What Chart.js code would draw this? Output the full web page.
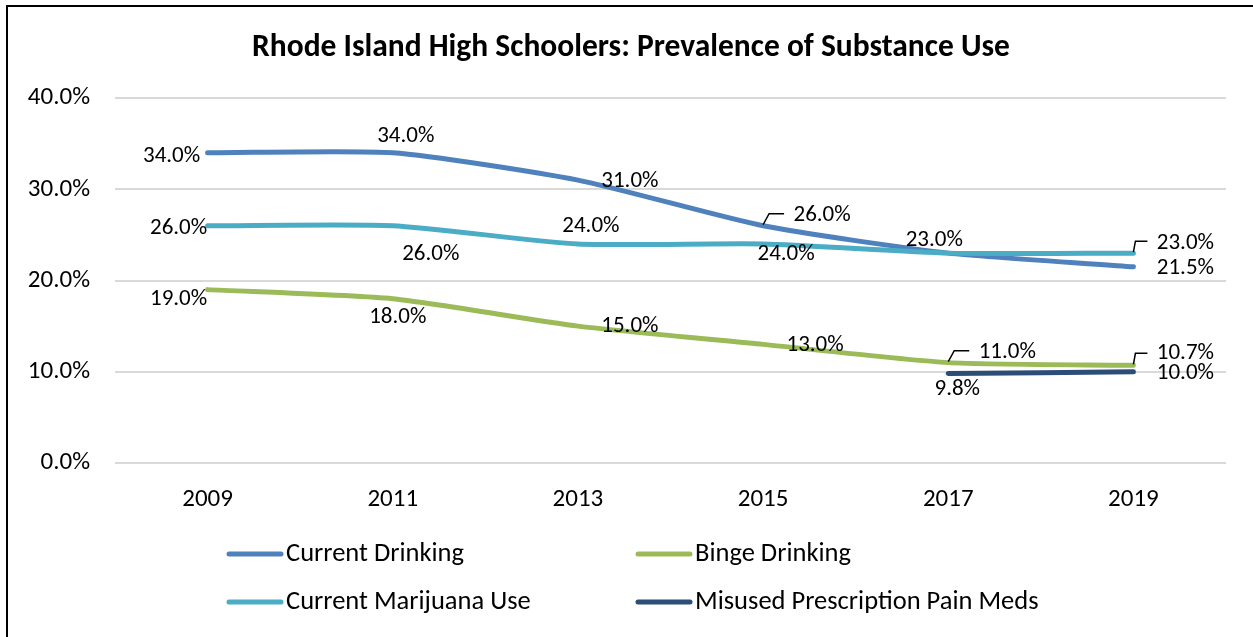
<!DOCTYPE html>
<html>
<head>
<meta charset="utf-8">
<script src="https://cdn.jsdelivr.net/npm/chart.js@4"></script>
<style>
  html, body { margin: 0; padding: 0; background: #fff; }
  canvas { display: block; }
</style>
</head>
<body>
<canvas id="canvas" width="1253" height="637"></canvas>
<script>
var years = ['2009', '2011', '2013', '2015', '2017', '2019'];
var currentDrinking = [34.0, 34.0, 31.0, 26.0, 23.0, 21.5];
var currentMarijuana = [26.0, 26.0, 24.0, 24.0, 23.0, 23.0];
var bingeDrinking = [19.0, 18.0, 15.0, 13.0, 11.0, 10.7];
var misusedPainMeds = [null, null, null, null, 9.8, 10.0];
var yTicks = [0, 10, 20, 30, 40];

var FONT = 'Carlito, Lato, sans-serif';

// where each value label sits, in px from its point (null = not shown)
var labelPlace = [
  [[-36, 3], [13, -17], [52, 1], [59, -11, 'diag'], [-14, -13], [52, 1]],
  [[-29, 2], [38, 28], [13, -18], [23, 10], null, [52, -10, 'hook']],
  [[-29, 10], [5, 18], [52, 0], [52, 1], [59, -10, 'diag'], [52, -12, 'hook']],
  [null, null, null, null, [9, 16], [52, 1]]
];

var lineData = {
  labels: years,
  datasets: [{
    label: 'Current Drinking',
    borderColor: '#4f81bd',
    data: currentDrinking,
    order: 4
  }, {
    label: 'Current Marijuana Use',
    borderColor: '#4bacc6',
    data: currentMarijuana,
    order: 3
  }, {
    label: 'Binge Drinking',
    borderColor: '#9bbb59',
    data: bingeDrinking,
    order: 2
  }, {
    label: 'Misused Prescription Pain Meds',
    borderColor: '#2c4d75',
    data: misusedPainMeds,
    order: 1
  }]
};

var decor = {
  id: 'decor',
  beforeDraw: function(chart) {
    var ctx = chart.ctx;
    ctx.save();
    ctx.fillStyle = '#fff';
    ctx.fillRect(0, 0, chart.width, chart.height);
    ctx.strokeStyle = '#000';
    ctx.lineWidth = 2;
    ctx.beginPath();
    ctx.moveTo(7, chart.height);
    ctx.lineTo(7, 6);
    ctx.lineTo(chart.width, 6);
    ctx.stroke();
    ctx.restore();
  },
  afterDatasetsDraw: function(chart) {
    var ctx = chart.ctx;
    ctx.save();
    ctx.font = '23px ' + FONT;
    ctx.fillStyle = '#000';
    ctx.textAlign = 'center';
    ctx.textBaseline = 'middle';
    chart.data.datasets.forEach(function(ds, i) {
      var meta = chart.getDatasetMeta(i);
      meta.data.forEach(function(pt, j) {
        var v = ds.data[j];
        var pl = labelPlace[i][j];
        if (v === null || !pl) return;
        ctx.fillText(v.toFixed(1) + '%', pt.x + pl[0], pt.y + pl[1]);
        if (pl[2]) {
          ctx.strokeStyle = '#000';
          ctx.lineWidth = 1.5;
          ctx.beginPath();
          ctx.moveTo(pt.x, pt.y - 1);
          if (pl[2] === 'diag') {
            ctx.lineTo(pt.x + 6, pt.y - 12);
            ctx.lineTo(pt.x + 21, pt.y - 12);
          } else {
            ctx.lineTo(pt.x + 2, pt.y - 12);
            ctx.lineTo(pt.x + 14, pt.y - 12);
          }
          ctx.stroke();
        }
      });
    });
    ctx.restore();
  },
  afterDraw: function(chart) {
    var ctx = chart.ctx;
    ctx.save();
    ctx.fillStyle = '#000';
    ctx.textAlign = 'center';
    ctx.textBaseline = 'middle';
    ctx.font = 'bold 31.5px ' + FONT;
    ctx.fillText('Rhode Island High Schoolers: Prevalence of Substance Use', 631, 48);

    // legend, two columns filled top to bottom
    var colX = [227, 636];
    var rowY = [554, 602];
    ctx.font = '26.5px ' + FONT;
    ctx.textAlign = 'left';
    chart.data.datasets.forEach(function(ds, i) {
      var x = colX[Math.floor(i / 2)];
      var y = rowY[i % 2];
      ctx.strokeStyle = ds.borderColor;
      ctx.lineWidth = 5;
      ctx.lineCap = 'round';
      ctx.beginPath();
      ctx.moveTo(x + 2, y);
      ctx.lineTo(x + 54, y);
      ctx.stroke();
      ctx.fillText(ds.label, x + 59, y);
    });
    ctx.restore();
  }
};

window.onload = function() {
  var ctx = document.getElementById('canvas').getContext('2d');
  window.myLine = new Chart(ctx, {
    type: 'line',
    data: lineData,
    plugins: [decor],
    options: {
      responsive: false,
      animation: false,
      devicePixelRatio: 1,
      layout: {
        padding: { left: 0, right: 27, top: 98, bottom: 124 }
      },
      elements: {
        line: { borderWidth: 5, tension: 0.2, borderCapStyle: 'round', fill: false },
        point: { radius: 0, hoverRadius: 0 }
      },
      plugins: {
        legend: { display: false },
        title: { display: false },
        tooltip: { enabled: false }
      },
      scales: {
        x: {
          offset: true,
          grid: { display: false, drawTicks: false },
          border: { display: false },
          ticks: { color: '#000', font: { family: FONT, size: 25 }, padding: 22 },
          afterFit: function(s) { s.height = 50; }
        },
        y: {
          min: 0,
          max: 40,
          afterBuildTicks: function(s) {
            s.ticks = yTicks.map(function(v) { return { value: v }; });
          },
          grid: { color: '#d9d9d9', lineWidth: 2, drawTicks: false },
          border: { display: false },
          ticks: {
            color: '#000',
            font: { family: FONT, size: 25 },
            padding: 25,
            callback: function(v) { return v.toFixed(1) + '%'; }
          },
          afterFit: function(s) { s.width = 115; }
        }
      }
    }
  });
};
</script>
</body>
</html>
